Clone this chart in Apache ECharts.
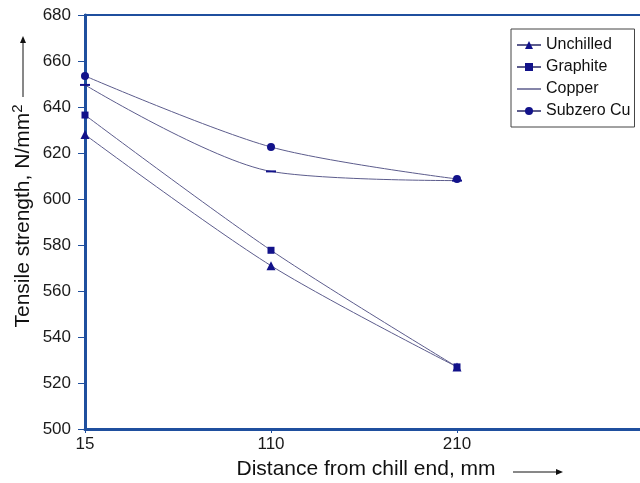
<!DOCTYPE html>
<html>
<head>
<meta charset="utf-8">
<script src="https://cdn.jsdelivr.net/npm/echarts@6/dist/echarts.min.js"></script>
<style>
  html, body { margin: 0; padding: 0; background: #fff; }
  #chart { width: 640px; height: 483px; }
</style>
</head>
<body>
<div id="chart"></div>
<script>
// distance from chill end (last slot is empty, the plot runs on past 210)
const distances = ['15', '110', '210', '']
const unchilled = [628, 571, 527]
const graphite = [636.5, 577.7, 527]
const copper = [649.6, 612, 608]
const subzeroCu = [653.5, 622.6, 608.7]
const yTicks = { min: 500, max: 680, step: 20 }

const AXIS_BLUE = '#1f4f9e'
const LINE_GREY = '#5c5c8c'
const MARK_NAVY = '#12128a'
const FONT = 'Liberation Sans, Arial, sans-serif'

const chart = echarts.init(document.getElementById('chart'))

function lineSeries (name, data, symbol, size) {
  return {
    name: name,
    type: 'line',
    data: data,
    smooth: 0.3,
    symbol: symbol,
    symbolSize: size,
    showAllSymbol: true,
    lineStyle: { color: LINE_GREY, width: 1 },
    itemStyle: { color: MARK_NAVY },
    emphasis: { disabled: true }
  }
}

chart.setOption({
  animation: false,
  grid: {
    left: 85,
    top: 15,
    bottom: 54,
    width: 558,
    outerBoundsMode: 'none',
    show: true,
    borderColor: AXIS_BLUE,
    borderWidth: 2
  },
  legend: {
    orient: 'vertical',
    left: 511,
    top: 29,
    padding: [8, 4, 8, 5],
    itemGap: 6,
    itemWidth: 24,
    itemHeight: 10,
    borderColor: '#444',
    borderWidth: 1,
    borderRadius: 0,
    textStyle: { fontFamily: FONT, fontSize: 16, color: '#111' },
    data: [
      'Unchilled',
      'Graphite',
      { name: 'Copper', icon: 'path://M0,0 L24,0 L24,1.5 L0,1.5 Z', itemStyle: { color: LINE_GREY } },
      'Subzero Cu'
    ]
  },
  xAxis: {
    type: 'category',
    data: distances,
    boundaryGap: false,
    axisLine: { lineStyle: { color: AXIS_BLUE, width: 3 } },
    axisTick: { show: true, length: 4, inside: false, lineStyle: { color: AXIS_BLUE } },
    axisLabel: { fontFamily: FONT, fontSize: 17, color: '#1a1a1a', margin: 7 },
    splitLine: { show: false }
  },
  yAxis: {
    type: 'value',
    min: yTicks.min,
    max: yTicks.max,
    interval: yTicks.step,
    axisLine: { show: true, lineStyle: { color: AXIS_BLUE, width: 3 } },
    axisTick: { show: true, length: 7, lineStyle: { color: AXIS_BLUE } },
    axisLabel: { fontFamily: FONT, fontSize: 17, color: '#1a1a1a', margin: 14 },
    splitLine: { show: false }
  },
  graphic: [
    {
      type: 'text',
      x: 23,
      y: 216,
      rotation: Math.PI / 2,
      style: {
        text: 'Tensile strength, N/mm{s|2}',
        font: '21px ' + FONT,
        fill: '#111',
        align: 'center',
        verticalAlign: 'middle',
        rich: { s: { fontSize: 15, fontFamily: FONT, fill: '#111', padding: [0, 0, 11, 0] } }
      }
    },
    { type: 'line', shape: { x1: 23, y1: 97, x2: 23, y2: 41 }, style: { stroke: '#111', lineWidth: 1 } },
    { type: 'polygon', shape: { points: [[23, 36], [20, 43], [26, 43]] }, style: { fill: '#111' } },
    {
      type: 'text',
      x: 366,
      y: 469,
      style: {
        text: 'Distance from chill end, mm',
        font: '21px ' + FONT,
        fill: '#111',
        align: 'center',
        verticalAlign: 'middle'
      }
    },
    { type: 'line', shape: { x1: 513, y1: 472, x2: 558, y2: 472 }, style: { stroke: '#111', lineWidth: 1 } },
    { type: 'polygon', shape: { points: [[563, 472], [556, 469], [556, 475]] }, style: { fill: '#111' } }
  ],
  series: [
    lineSeries('Unchilled', unchilled, 'triangle', 9),
    lineSeries('Graphite', graphite, 'rect', 7),
    lineSeries('Copper', copper, 'rect', [10, 2]),
    lineSeries('Subzero Cu', subzeroCu, 'circle', 8)
  ]
})
</script>
</body>
</html>
